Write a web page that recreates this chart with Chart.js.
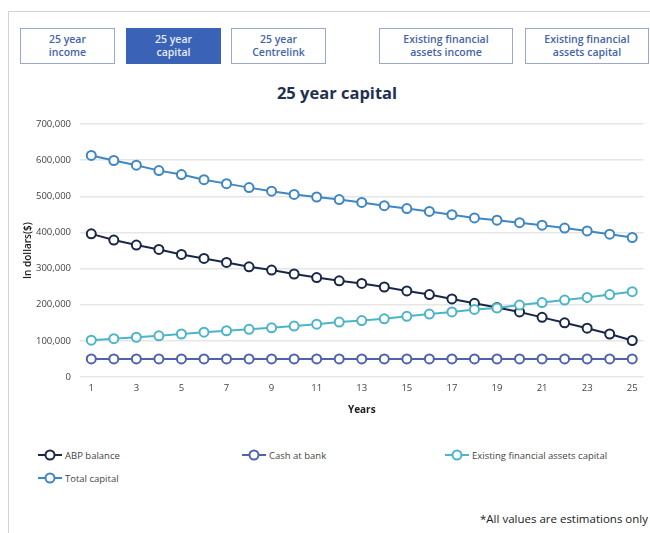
<!DOCTYPE html>
<html>
<head>
<meta charset="utf-8">
<script src="https://cdn.jsdelivr.net/npm/chart.js@4.4.1/dist/chart.umd.min.js"></script>
<style>
  html, body { margin: 0; padding: 0; background: #fff; }
  body { width: 650px; height: 533px; position: relative; overflow: hidden; font-family: "Open Sans", "Noto Sans", sans-serif; }
  .panel { position: absolute; left: 8px; top: 11px; width: 660px; height: 540px; border-top: 1.5px solid #d2d4d8; border-left: 1.5px solid #d2d4d8; }
  .tab { position: absolute; top: 28px; height: 36px; box-sizing: border-box; border: 1.5px solid #9aa8d0; background: #fff;
         color: #4564a8; font-size: 10.5px; font-weight: 600; line-height: 13px; text-align: center;
         display: flex; align-items: center; justify-content: center; }
  .tab.active { background: #3a62b6; border-color: #3a62b6; color: #e6ecf8; }
  .title { position: absolute; left: 0; width: 674px; top: 81px; text-align: center; font-size: 16.5px; font-weight: 700; color: #22304f; }
  .chartbox { position: absolute; left: 10px; top: 108px; width: 640px; height: 312px; }
  .leg { position: absolute; height: 14px; font-size: 9.5px; color: #444; display: flex; align-items: center; }
  .leg canvas { margin-right: 3px; }
  .note { position: absolute; right: 2px; top: 511px; font-size: 11.5px; color: #222; }
</style>
</head>
<body>
<div class="panel"></div>
<div class="tab" style="left:20px;width:95px;">25 year<br>income</div>
<div class="tab active" style="left:126px;width:95px;">25 year<br>capital</div>
<div class="tab" style="left:231px;width:95px;">25 year<br>Centrelink</div>
<div class="tab" style="left:379px;width:134px;">Existing financial<br>assets income</div>
<div class="tab" style="left:525px;width:124px;">Existing financial<br>assets capital</div>
<div class="title">25 year capital</div>
<div class="chartbox"><canvas id="c"></canvas></div>
<div id="legend"></div>
<div class="note">*All values are estimations only</div>
<script>
// Projection years
const years = ["1","2","3","4","5","6","7","8","9","10","11","12","13","14","15","16","17","18","19","20","21","22","23","24","25"];

// Account-based pension balance
const abpBalance = [396000, 379000, 365000, 353000, 339000, 328000, 317000, 305000, 296000, 285000, 275000, 266000, 259000, 249000, 238000, 228000, 216000, 204000, 192000, 180000, 165000, 150000, 135000, 119000, 101000];

// Cash held at bank
const cashAtBank = [50000, 50000, 50000, 50000, 50000, 50000, 50000, 50000, 50000, 50000, 50000, 50000, 50000, 50000, 50000, 50000, 50000, 50000, 50000, 50000, 50000, 50000, 50000, 50000, 50000];

// Existing financial assets capital
const existingAssets = [102000, 106000, 110000, 114000, 119000, 124000, 128000, 132000, 136000, 141000, 146000, 152000, 156000, 161000, 168000, 174000, 180000, 187000, 191000, 199000, 206000, 213000, 220000, 228000, 236000];

// Total capital
const totalCapital = [613000, 599000, 586000, 571000, 560000, 546000, 535000, 524000, 514000, 505000, 498000, 491000, 483000, 474000, 466000, 458000, 449000, 440000, 434000, 427000, 420000, 412000, 404000, 395000, 386000];

const seriesNames = ["ABP balance", "Cash at bank", "Existing financial assets capital", "Total capital"];
const seriesColors = ["#1a2848", "#4f62ae", "#4cb5c8", "#3f87c2"];
const seriesData = [abpBalance, cashAtBank, existingAssets, totalCapital];

const datasets = seriesData.map((d, i) => ({
  label: seriesNames[i],
  data: d,
  borderColor: seriesColors[i],
  backgroundColor: "#ffffff",
  pointBackgroundColor: "#ffffff",
  pointBorderColor: seriesColors[i],
  pointBorderWidth: 2,
  pointRadius: 4.5,
  borderWidth: 2,
  tension: 0,
  order: 4 - i
}));

const tickFont = { family: "'Open Sans', 'Noto Sans', sans-serif", size: 9.5 };

new Chart(document.getElementById("c"), {
  type: "line",
  data: { labels: years, datasets },
  options: {
    responsive: true,
    maintainAspectRatio: false,
    animation: false,
    layout: { padding: { left: 8, right: 1, top: 16, bottom: 0 } },
    plugins: { legend: { display: false }, tooltip: { enabled: false } },
    scales: {
      x: {
        offset: true,
        grid: { display: false, drawTicks: false },
        border: { display: false },
        ticks: {
          font: tickFont, color: "#444", padding: 6, maxRotation: 0, autoSkip: false,
          callback: function (v, i) { return i % 2 === 0 ? years[i] : ""; }
        },
        title: { display: true, text: "Years", color: "#222", padding: { top: 4, bottom: 4 },
                 font: { family: "'Open Sans', 'Noto Sans', sans-serif", size: 10, weight: "bold" } },
        afterFit: function (s) { s.height = 43; }
      },
      y: {
        min: 0, max: 700000,
        grid: { color: "#e6e6e6", lineWidth: 1.5, drawTicks: false },
        border: { display: false },
        ticks: {
          stepSize: 100000, font: tickFont, color: "#444", padding: 9,
          callback: v => v.toLocaleString("en-US")
        },
        title: { display: true, text: "In dollars($)", color: "#222", padding: { top: 4, bottom: 4 },
                 font: { family: "'Open Sans', 'Noto Sans', sans-serif", size: 10, weight: "600" } },
        afterFit: function (s) { s.width = 62; }
      }
    }
  }
});

// Legend laid out in three columns below the chart
const legendPos = [[38, 448], [242, 448], [445, 448], [38, 471]];
const legendEl = document.getElementById("legend");
seriesNames.forEach((name, i) => {
  const item = document.createElement("div");
  item.className = "leg";
  item.style.left = legendPos[i][0] + "px";
  item.style.top = legendPos[i][1] + "px";
  const cv = document.createElement("canvas");
  cv.width = 24; cv.height = 14;
  const g = cv.getContext("2d");
  g.strokeStyle = seriesColors[i];
  g.lineWidth = 2;
  g.beginPath(); g.moveTo(0, 7); g.lineTo(24, 7); g.stroke();
  g.fillStyle = "#fff";
  g.beginPath(); g.arc(12, 7, 4.5, 0, Math.PI * 2); g.fill(); g.stroke();
  item.appendChild(cv);
  const t = document.createElement("span");
  t.textContent = name;
  item.appendChild(t);
  legendEl.appendChild(item);
});
</script>
</body>
</html>
